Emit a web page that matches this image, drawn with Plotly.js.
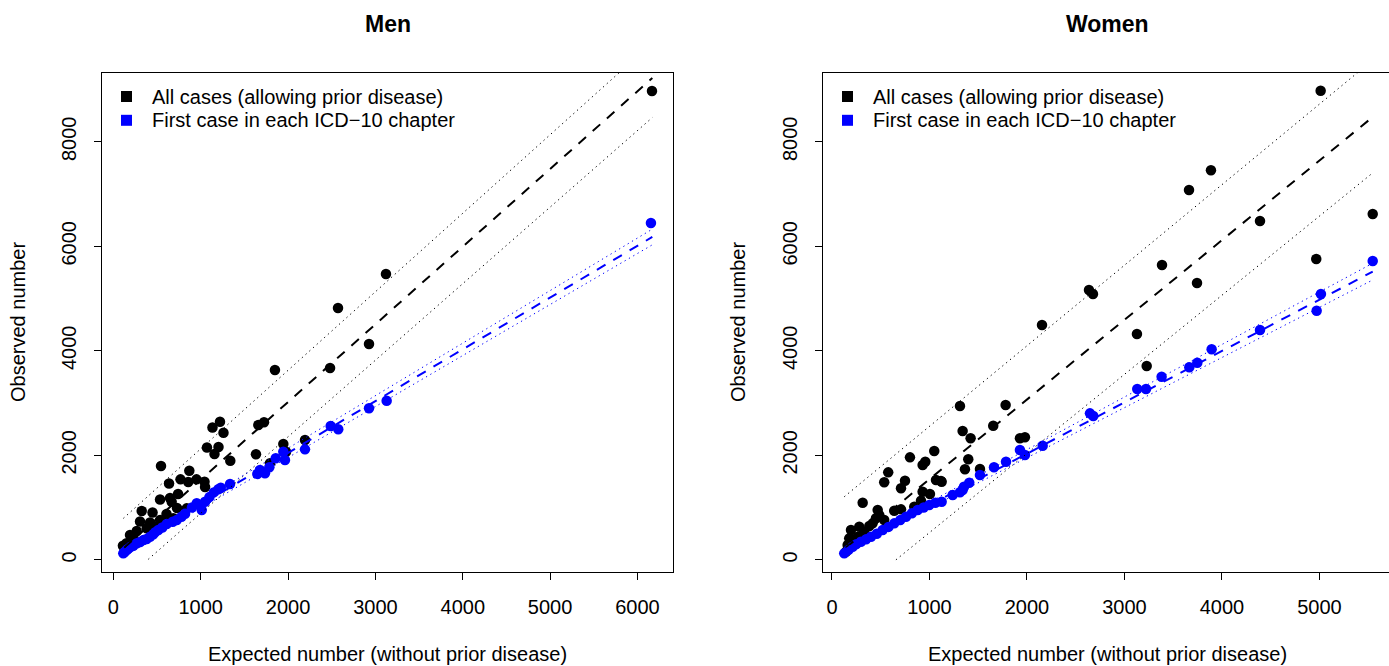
<!DOCTYPE html>
<html>
<head>
<meta charset="utf-8">
<script src="https://cdn.plot.ly/plotly-3.0.1.min.js"></script>
<style>html,body{margin:0;padding:0;background:#fff;}#chart{width:1389px;height:666px;}</style>
</head>
<body>
<div id="chart"></div>
<script>
// ---------------- DATA ----------------
// Men: all cases (allowing prior disease)
const menAllX = [6166,3121,2572,2927,2481,1850,1725,1660,1221,1135,1261,1072,1204,1158,1633,1946,1977,2194,1793,1339,
  546,870,769,638,952,858,1044,1050,741,535,649,729,325,449,609,306,420,535,268,382,191,151,110,229,687,477,840,668];
const menAllY = [8971,5469,4818,4129,3670,3632,2631,2579,2643,2532,2432,2149,2158,2024,2019,2216,2069,2292,1847,1896,
  1795,1705,1540,1460,1540,1489,1494,1393,1259,1154,1183,991,934,905,876,733,714,762,551,603,475,316,270,436,794,633,985,1112];
// Men: first case in each ICD-10 chapter
const menFirstX = [6154,3129,2927,2488,2575,2194,1946,1965,1859,1786,1679,1648,1736,1336,1202,1230,1050,955,1012,1100,
  1150,900,821,780,726,680,611,560,515,480,458,420,382,345,306,270,229,200,170,153,130,114];
const menFirstY = [6445,3044,2899,2560,2497,2114,2069,1910,1942,1770,1718,1642,1655,1450,1349,1380,1112,1081,953,1200,
  1290,1000,880,825,760,729,685,620,570,530,490,442,400,379,340,316,270,251,210,188,150,124];
// Men fitted lines (x from/to, y from/to)
const menAllFitX = [125, 6170],   menAllFitY = [231, 9220];
const menAllUpX  = [115, 6170],   menAllUpY  = [794, 9892];
const menAllLoX  = [400, 6170],   menAllLoY  = [10, 8463];
const menFirstFitX = [110, 6170], menFirstFitY = [173, 6178];
const menFirstBandX  = [110, 1000, 2000, 3500, 6170];
const menFirstUpY    = [198, 1120, 2136, 3648, 6328];
const menFirstLoY    = [148, 990, 1956, 3418, 6028];

// Women: all cases
const womenAllX = [5012,3887,3662,4390,5546,4967,3385,3744,2636,2677,2154,3128,3228,1313,1781,1654,1340,1422,1928,1979,
  1398,1364,1518,1125,1049,800,957,930,577,536,749,708,1067,1118,930,1005,913,315,469,639,708,844,451,536,280,383,195,331,
  264,177,161,144,485,417];
const womenAllY = [8976,7455,7076,6483,6617,5756,5640,5296,5163,5087,4493,4322,3708,2943,2962,2566,2465,2325,2325,2344,
  1923,1732,1737,1494,2082,1961,1878,1814,1674,1483,1514,1368,1527,1508,1303,1259,1131,1093,953,940,966,1016,794,762,633,647,570,538,
  442,411,283,155,857,698];
// Women: first case in each ICD-10 chapter
const womenFirstX = [5546,5015,4971,4390,3894,3747,3665,3381,3131,3221,2646,2680,2161,1928,1979,1785,1662,1518,1408,1354,
  1313,1340,1238,1125,998,879,759,639,520,400,297,212,126,1060,940,820,700,580,460,350,250,170];
const womenFirstY = [5717,5087,4767,4397,4028,3772,3684,3504,3268,3268,2803,2752,2183,2101,2005,1877,1770,1623,1475,1399,
  1292,1336,1240,1112,1049,953,825,698,570,442,346,251,124,1090,1000,890,760,630,500,395,300,190];
// Women fitted lines
const womenAllFitX = [140, 5546], womenAllFitY = [231, 8474];
const womenAllUpX  = [126, 5546], womenAllUpY  = [1207, 9562];
const womenAllLoX  = [656, 5546], womenAllLoY  = [0, 7404];
const womenFirstFitX = [126, 5546], womenFirstFitY = [190, 5515];
const womenFirstBandX = [126, 1000, 2750, 5546];
const womenFirstUpY   = [215, 1104, 2864, 5675];
const womenFirstLoY   = [165, 994, 2672, 5355];

const menXTicks = [0,1000,2000,3000,4000,5000,6000];
const womenXTicks = [0,1000,2000,3000,4000,5000];
const yTicks = [0,2000,4000,6000,8000];
const legendLabels = ["All cases (allowing prior disease)", "First case in each ICD\u221210 chapter"];
const panelTitles = ["Men", "Women"];
const xTitle = "Expected number (without prior disease)";
const yTitle = "Observed number";

// ---------------- LAYOUT HELPERS ----------------
const W = 1389, H = 666;
const FONT = "Liberation Sans, Arial, Helvetica, sans-serif";
const px = v => v / W;
const py = v => 1 - v / H;
const BLUE = "#0000FF";

function pts(x, y, color, xa, ya) {
  return {type:"scatter", mode:"markers", x:x, y:y, xaxis:xa, yaxis:ya,
    marker:{color:color, size:10.5, line:{width:0}}, hoverinfo:"skip", cliponaxis:true};
}
function line(x, y, color, width, dash, xa, ya) {
  return {type:"scatter", mode:"lines", x:x, y:y, xaxis:xa, yaxis:ya,
    line:{color:color, width:width, dash:dash}, hoverinfo:"skip"};
}
const DASH = "10px,9px", DOT = "1.3px,3.7px";

const traces = [
  pts(menAllX, menAllY, "#000", "x", "y"),
  pts(menFirstX, menFirstY, BLUE, "x", "y"),
  line(menAllFitX, menAllFitY, "#000", 2, DASH, "x", "y"),
  line(menAllUpX, menAllUpY, "#000", 1, DOT, "x", "y"),
  line(menAllLoX, menAllLoY, "#000", 1, DOT, "x", "y"),
  line(menFirstFitX, menFirstFitY, BLUE, 2, DASH, "x", "y"),
  line(menFirstBandX, menFirstUpY, BLUE, 1, DOT, "x", "y"),
  line(menFirstBandX, menFirstLoY, BLUE, 1, DOT, "x", "y"),

  pts(womenAllX, womenAllY, "#000", "x2", "y2"),
  pts(womenFirstX, womenFirstY, BLUE, "x2", "y2"),
  line(womenAllFitX, womenAllFitY, "#000", 2, DASH, "x2", "y2"),
  line(womenAllUpX, womenAllUpY, "#000", 1, DOT, "x2", "y2"),
  line(womenAllLoX, womenAllLoY, "#000", 1, DOT, "x2", "y2"),
  line(womenFirstFitX, womenFirstFitY, BLUE, 2, DASH, "x2", "y2"),
  line(womenFirstBandX, womenFirstUpY, BLUE, 1, DOT, "x2", "y2"),
  line(womenFirstBandX, womenFirstLoY, BLUE, 1, DOT, "x2", "y2")
];

const axBase = {showgrid:false, zeroline:false, showline:true, linecolor:"#000", linewidth:1,
  ticks:"outside", ticklen:7, tickwidth:1, tickcolor:"#000",
  tickfont:{family:FONT, size:20, color:"#000"}, fixedrange:true};

const yDomain = [1 - 572/H, 1 - 72.5/H];

const layout = {
  width: W, height: H,
  margin:{l:0, r:0, t:0, b:0, pad:0},
  paper_bgcolor:"#fff", plot_bgcolor:"#fff",
  showlegend:false,
  font:{family:FONT, color:"#000"},
  xaxis: Object.assign({}, axBase, {domain:[px(101.7), px(673.3)], range:[-133, 6410],
    tickvals:menXTicks, ticktext:menXTicks.map(String), anchor:"y", mirror:true, ticklabelstandoff:10}),
  yaxis: Object.assign({}, axBase, {domain:yDomain, range:[-233, 9325],
    tickvals:yTicks, ticktext:yTicks.map(String), tickangle:-90, anchor:"x", mirror:true, ticklabelstandoff:10}),
  xaxis2: Object.assign({}, axBase, {domain:[px(822.7), 1], range:[-95, 5713],
    tickvals:womenXTicks, ticktext:womenXTicks.map(String), anchor:"y2", mirror:true, ticklabelstandoff:10}),
  yaxis2: Object.assign({}, axBase, {domain:yDomain, range:[-233, 9325],
    tickvals:yTicks, ticktext:yTicks.map(String), tickangle:-90, anchor:"x2", mirror:false, ticklabelstandoff:10}),
  annotations: [],
  shapes: []
};

const panels = [
  {cx:387.5, left:101.7, ylab:18},
  {cx:1107, left:822.7, ylab:738}
];
panels.forEach((p, i) => {
  layout.annotations.push({xref:"paper", yref:"paper", x:px(p.cx), y:py(24), xanchor:"center", yanchor:"middle",
    text:"<b>"+panelTitles[i]+"</b>", showarrow:false, font:{family:FONT, size:23, color:"#000"}});
  layout.annotations.push({xref:"paper", yref:"paper", x:px(p.cx), y:py(654), xanchor:"center", yanchor:"middle",
    text:xTitle, showarrow:false, borderpad:0, font:{family:FONT, size:20, color:"#000"}});
  layout.annotations.push({xref:"paper", yref:"paper", x:px(p.ylab), y:py(322), xanchor:"center", yanchor:"middle",
    text:yTitle, textangle:-90, showarrow:false, font:{family:FONT, size:20, color:"#000"}});
  const rows = [96.5, 120.3];
  const cols = ["#000", BLUE];
  rows.forEach((ry, k) => {
    layout.annotations.push({xref:"paper", yref:"paper", x:px(p.left + 49.5), y:py(ry), xanchor:"left", yanchor:"middle",
      text:legendLabels[k], showarrow:false, borderpad:0, font:{family:FONT, size:20, color:"#000"}});
    const sx = p.left + 24.8;
    layout.shapes.push({type:"rect", xref:"paper", yref:"paper",
      x0:px(sx - 5.5), x1:px(sx + 5.5), y0:py(ry + 5.5), y1:py(ry - 5.5),
      fillcolor:cols[k], line:{width:0}});
  });
});

Plotly.newPlot("chart", traces, layout, {staticPlot:true, displayModeBar:false});
</script>
</body>
</html>
